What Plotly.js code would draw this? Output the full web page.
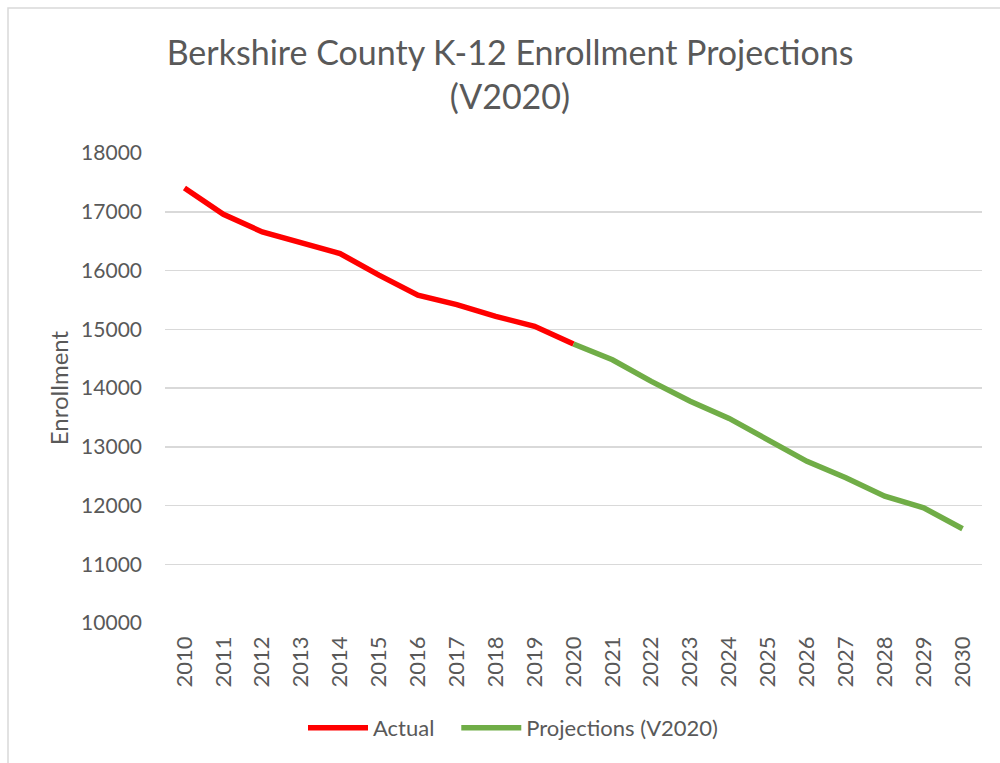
<!DOCTYPE html>
<html>
<head>
<meta charset="utf-8">
<script src="https://cdn.plot.ly/plotly-3.0.1.min.js"></script>
<style>
  html, body { margin: 0; padding: 0; background: #fff; }
  #chart { width: 1000px; height: 763px; }
</style>
</head>
<body>
<div id="chart"></div>
<script>
const years = ["2010","2011","2012","2013","2014","2015","2016","2017","2018","2019","2020",
               "2021","2022","2023","2024","2025","2026","2027","2028","2029","2030"];
const actualYears = ["2010","2011","2012","2013","2014","2015","2016","2017","2018","2019","2020"];
const actualValues = [17405, 16958, 16657, 16476, 16289, 15920, 15580, 15420, 15220, 15051, 14750];
const projYears = ["2020","2021","2022","2023","2024","2025","2026","2027","2028","2029","2030"];
const projValues = [14750, 14480, 14113, 13775, 13482, 13110, 12751, 12472, 12159, 11961, 11605];
const yTicks = [10000, 11000, 12000, 13000, 14000, 15000, 16000, 17000, 18000];
const seriesNames = ["Actual", "Projections (V2020)"];

const FONT = "Lato, 'Open Sans', sans-serif";
const GREY = "#595959";

const traces = [
  {
    x: actualYears, y: actualValues, type: "scatter", mode: "lines",
    name: seriesNames[0] + "\u00a0\u00a0\u00a0",
    line: { color: "#FF0000", width: 5.5, shape: "linear" }
  },
  {
    x: projYears, y: projValues, type: "scatter", mode: "lines", name: seriesNames[1],
    line: { color: "#70AD47", width: 5.5, shape: "linear" }
  }
];

const W = 1000, H = 763, L = 165, R = 18, T = 153, B = 140;
const pw = W - L - R, ph = H - T - B;

const layout = {
  width: W, height: H,
  margin: { l: L, r: R, t: T, b: B },
  paper_bgcolor: "#ffffff", plot_bgcolor: "#ffffff",
  font: { family: FONT, color: GREY, size: 21 },
  title: {
    text: "Berkshire County K-12 Enrollment Projections<br>(V2020)",
    font: { family: FONT, size: 34, color: GREY },
    x: 0.51, xanchor: "center", xref: "container",
    y: 1 - 65 / H, yanchor: "top", yref: "container"
  },
  xaxis: {
    type: "category", categoryorder: "array", categoryarray: years,
    range: [-0.5, years.length - 0.5],
    tickangle: -90, tickfont: { family: FONT, size: 22, color: GREY },
    showgrid: false, zeroline: false, showline: false, ticks: "",
    ticklen: 0, ticklabelstandoff: 8, automargin: false
  },
  yaxis: {
    range: [10000, 18000], tickvals: yTicks, ticktext: yTicks.map(String),
    tickfont: { family: FONT, size: 21, color: GREY },
    showgrid: true, gridcolor: "#D9D9D9", gridwidth: 1.5,
    zeroline: false, showline: false, ticks: "", ticklabelstandoff: 22,
    title: { text: "Enrollment", font: { family: FONT, size: 24, color: GREY }, standoff: 5 },
    automargin: false
  },
  showlegend: true,
  legend: {
    orientation: "h", x: (513 - L) / pw, xanchor: "center",
    y: (623 - 728) / ph, yanchor: "middle",
    font: { family: FONT, size: 22, color: GREY },
    itemwidth: 60, bgcolor: "rgba(0,0,0,0)"
  },
  shapes: [
    {
      type: "rect", xref: "paper", yref: "paper",
      x0: (8 - L) / pw, x1: (1010 - L) / pw,
      y0: (623 - 780) / ph, y1: (623 - 8) / ph,
      line: { color: "#D9D9D9", width: 1.5 }, fillcolor: "rgba(0,0,0,0)", layer: "below"
    }
  ]
};

Plotly.newPlot("chart", traces, layout, { displayModeBar: false, staticPlot: true });
</script>
</body>
</html>
